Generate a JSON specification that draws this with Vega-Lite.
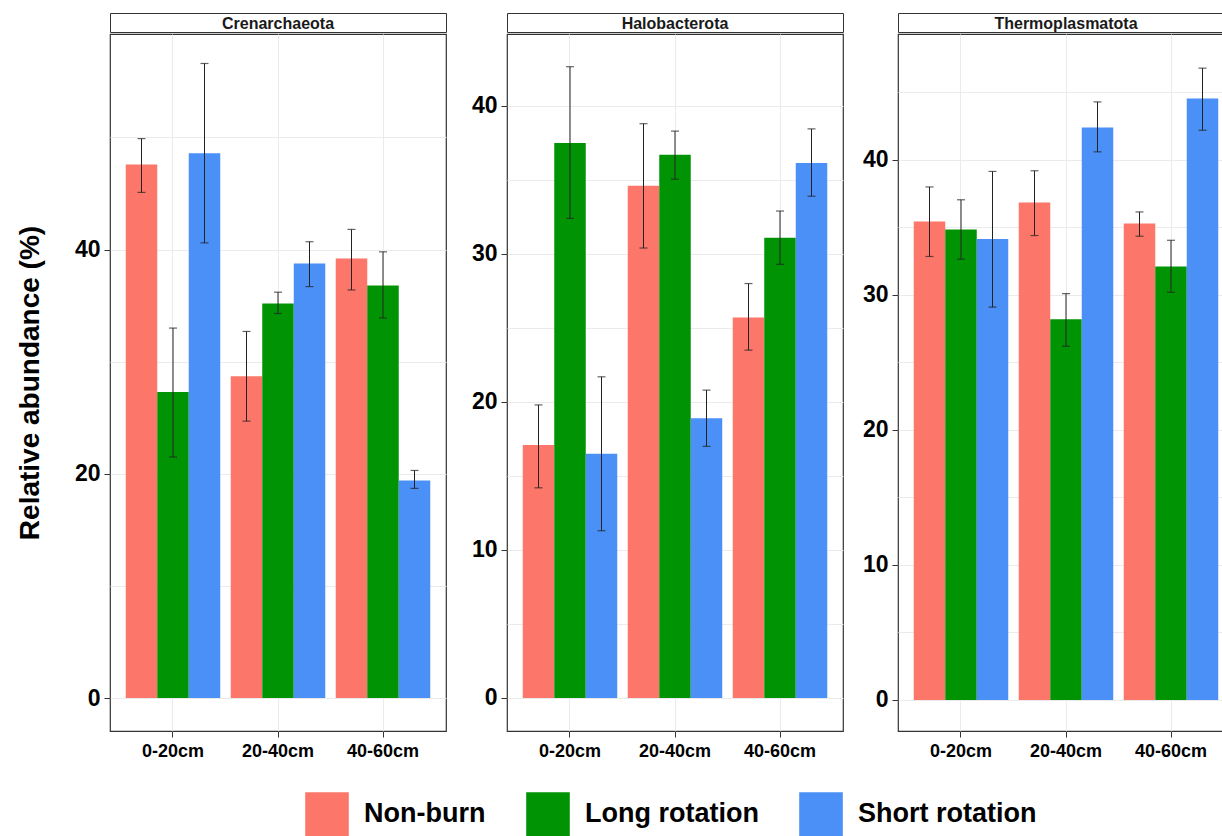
{
  "$schema": "https://vega.github.io/schema/vega-lite/v6.json",
  "padding": {"left": 15, "top": 12, "right": 0, "bottom": 0},
  "background": "white",
  "config": {
    "font": "Liberation Sans",
    "view": {"stroke": "#333333", "strokeWidth": 1.2},
    "axis": {"gridColor": "#EBEBEB", "gridWidth": 1, "domain": false, "tickColor": "#333333", "labelColor": "black", "labelFontWeight": "bold", "labelFont": "Liberation Sans"},
    "legend": {
      "orient": "none", "legendX": 195, "legendY": 779, "direction": "horizontal",
      "symbolType": "square", "symbolSize": 1900, "symbolStrokeWidth": 0, "symbolOpacity": 1,
      "labelFontSize": 27, "labelFontWeight": "bold", "labelColor": "black", "labelFont": "Liberation Sans", "labelLimit": 0,
      "labelOffset": 15, "columnPadding": 40, "title": null
    }
  },
  "data": {"values": [
    {"panel": "Crenarchaeota", "depth": "0-20cm", "treatment": "Non-burn", "mean": 47.6, "lo": 45.1, "hi": 49.9},
    {"panel": "Crenarchaeota", "depth": "0-20cm", "treatment": "Long rotation", "mean": 27.3, "lo": 21.5, "hi": 33.0},
    {"panel": "Crenarchaeota", "depth": "0-20cm", "treatment": "Short rotation", "mean": 48.6, "lo": 40.6, "hi": 56.6},
    {"panel": "Crenarchaeota", "depth": "20-40cm", "treatment": "Non-burn", "mean": 28.7, "lo": 24.7, "hi": 32.7},
    {"panel": "Crenarchaeota", "depth": "20-40cm", "treatment": "Long rotation", "mean": 35.2, "lo": 34.3, "hi": 36.2},
    {"panel": "Crenarchaeota", "depth": "20-40cm", "treatment": "Short rotation", "mean": 38.75, "lo": 36.7, "hi": 40.7},
    {"panel": "Crenarchaeota", "depth": "40-60cm", "treatment": "Non-burn", "mean": 39.2, "lo": 36.4, "hi": 41.8},
    {"panel": "Crenarchaeota", "depth": "40-60cm", "treatment": "Long rotation", "mean": 36.8, "lo": 33.9, "hi": 39.8},
    {"panel": "Crenarchaeota", "depth": "40-60cm", "treatment": "Short rotation", "mean": 19.4, "lo": 18.7, "hi": 20.3},
    {"panel": "Halobacterota", "depth": "0-20cm", "treatment": "Non-burn", "mean": 17.1, "lo": 14.2, "hi": 19.8},
    {"panel": "Halobacterota", "depth": "0-20cm", "treatment": "Long rotation", "mean": 37.5, "lo": 32.4, "hi": 42.65},
    {"panel": "Halobacterota", "depth": "0-20cm", "treatment": "Short rotation", "mean": 16.5, "lo": 11.3, "hi": 21.7},
    {"panel": "Halobacterota", "depth": "20-40cm", "treatment": "Non-burn", "mean": 34.6, "lo": 30.4, "hi": 38.8},
    {"panel": "Halobacterota", "depth": "20-40cm", "treatment": "Long rotation", "mean": 36.7, "lo": 35.05, "hi": 38.3},
    {"panel": "Halobacterota", "depth": "20-40cm", "treatment": "Short rotation", "mean": 18.9, "lo": 17.0, "hi": 20.8},
    {"panel": "Halobacterota", "depth": "40-60cm", "treatment": "Non-burn", "mean": 25.7, "lo": 23.5, "hi": 28.0},
    {"panel": "Halobacterota", "depth": "40-60cm", "treatment": "Long rotation", "mean": 31.1, "lo": 29.3, "hi": 32.9},
    {"panel": "Halobacterota", "depth": "40-60cm", "treatment": "Short rotation", "mean": 36.15, "lo": 33.9, "hi": 38.45},
    {"panel": "Thermoplasmatota", "depth": "0-20cm", "treatment": "Non-burn", "mean": 35.45, "lo": 32.85, "hi": 38.0},
    {"panel": "Thermoplasmatota", "depth": "0-20cm", "treatment": "Long rotation", "mean": 34.85, "lo": 32.65, "hi": 37.05},
    {"panel": "Thermoplasmatota", "depth": "0-20cm", "treatment": "Short rotation", "mean": 34.15, "lo": 29.1, "hi": 39.15},
    {"panel": "Thermoplasmatota", "depth": "20-40cm", "treatment": "Non-burn", "mean": 36.85, "lo": 34.4, "hi": 39.2},
    {"panel": "Thermoplasmatota", "depth": "20-40cm", "treatment": "Long rotation", "mean": 28.2, "lo": 26.2, "hi": 30.1},
    {"panel": "Thermoplasmatota", "depth": "20-40cm", "treatment": "Short rotation", "mean": 42.4, "lo": 40.6, "hi": 44.3},
    {"panel": "Thermoplasmatota", "depth": "40-60cm", "treatment": "Non-burn", "mean": 35.3, "lo": 34.35, "hi": 36.15},
    {"panel": "Thermoplasmatota", "depth": "40-60cm", "treatment": "Long rotation", "mean": 32.1, "lo": 30.2, "hi": 34.05},
    {"panel": "Thermoplasmatota", "depth": "40-60cm", "treatment": "Short rotation", "mean": 44.55, "lo": 42.2, "hi": 46.8}
  ]},
  "resolve": {"scale": {"y": "independent", "x": "independent", "xOffset": "independent"}},
  "spacing": 17,
  "hconcat": [
    {
      "spacing": 23,
      "resolve": {"scale": {"y": "independent", "x": "independent", "xOffset": "independent"}},
      "hconcat": [
        {
          "spacing": 0,
          "vconcat": [
            {"width": 336, "height": 19, "data": {"values": [{"name": "Crenarchaeota"}]}, "view": {"stroke": "#333333", "fill": "white"},
             "mark": {"type": "text", "fontSize": 16, "fontWeight": "bold", "color": "#1a1a1a", "baseline": "middle", "dy": 1},
             "encoding": {"text": {"field": "name"}}},
            {
              "width": 336, "height": 697,
              "transform": [{"filter": "datum.panel === 'Crenarchaeota'"}],
              "encoding": {
                "x": {"field": "depth", "type": "nominal", "sort": ["0-20cm", "20-40cm", "40-60cm"], "scale": {"paddingInner": 0.1, "paddingOuter": 0.15},
                      "axis": {"title": null, "labelAngle": 0, "labelFontSize": 18, "labelPadding": 5, "labelDx": 5, "tickSize": 6, "grid": true, "bandPosition": 0.5}},
                "xOffset": {"field": "treatment", "sort": ["Non-burn", "Long rotation", "Short rotation"], "scale": {"paddingInner": 0, "paddingOuter": 0}},
                "y": {"field": "mean", "type": "quantitative", "scale": {"domain": [-2.94, 59.23], "nice": false, "zero": false},
                      "axis": {"title": "Relative abundance (%)", "titleFontSize": 28, "titleFontWeight": "bold", "titleColor": "black", "titlePadding": 30,
                               "values": [0, 10, 20, 30, 40, 50], "labelExpr": "datum.value % 20 === 0 ? datum.label : ''",
                               "tickOpacity": {"condition": {"test": "datum.value % 20 === 0", "value": 1}, "value": 0},
                               "labelFontSize": 23, "tickSize": 6, "labelPadding": 4}}
              },
              "layer": [
                {"mark": {"type": "bar"}, "encoding": {"color": {"field": "treatment", "type": "nominal", "sort": ["Non-burn", "Long rotation", "Short rotation"], "scale": {"domain": ["Non-burn", "Long rotation", "Short rotation"], "range": ["#FC776A", "#009405", "#4A90F6"]}, "title": null}}},
                {"mark": {"type": "rule", "color": "#222222", "strokeWidth": 1}, "encoding": {"y": {"field": "lo", "type": "quantitative"}, "y2": {"field": "hi"}}},
                {"mark": {"type": "tick", "color": "#222222", "size": 8, "thickness": 1.2, "orient": "horizontal"}, "encoding": {"y": {"field": "lo", "type": "quantitative"}}},
                {"mark": {"type": "tick", "color": "#222222", "size": 8, "thickness": 1.2, "orient": "horizontal"}, "encoding": {"y": {"field": "hi", "type": "quantitative"}}}
              ]
            }
          ]
        },
        {
          "spacing": 0,
          "vconcat": [
            {"width": 336, "height": 19, "data": {"values": [{"name": "Halobacterota"}]}, "view": {"stroke": "#333333", "fill": "white"},
             "mark": {"type": "text", "fontSize": 16, "fontWeight": "bold", "color": "#1a1a1a", "baseline": "middle", "dy": 1},
             "encoding": {"text": {"field": "name"}}},
            {
              "width": 336, "height": 697,
              "transform": [{"filter": "datum.panel === 'Halobacterota'"}],
              "encoding": {
                "x": {"field": "depth", "type": "nominal", "sort": ["0-20cm", "20-40cm", "40-60cm"], "scale": {"paddingInner": 0.1, "paddingOuter": 0.15},
                      "axis": {"title": null, "labelAngle": 0, "labelFontSize": 18, "labelPadding": 5, "labelDx": 5, "tickSize": 6, "grid": true, "bandPosition": 0.5}},
                "xOffset": {"field": "treatment", "sort": ["Non-burn", "Long rotation", "Short rotation"], "scale": {"paddingInner": 0, "paddingOuter": 0}},
                "y": {"field": "mean", "type": "quantitative", "scale": {"domain": [-2.23, 44.86], "nice": false, "zero": false},
                      "axis": {"title": null,
                               "values": [0, 5, 10, 15, 20, 25, 30, 35, 40], "labelExpr": "datum.value % 10 === 0 ? datum.label : ''",
                               "tickOpacity": {"condition": {"test": "datum.value % 10 === 0", "value": 1}, "value": 0},
                               "labelFontSize": 23, "tickSize": 6, "labelPadding": 4}}
              },
              "layer": [
                {"mark": {"type": "bar"}, "encoding": {"color": {"field": "treatment", "type": "nominal", "sort": ["Non-burn", "Long rotation", "Short rotation"], "scale": {"domain": ["Non-burn", "Long rotation", "Short rotation"], "range": ["#FC776A", "#009405", "#4A90F6"]}, "title": null}}},
                {"mark": {"type": "rule", "color": "#222222", "strokeWidth": 1}, "encoding": {"y": {"field": "lo", "type": "quantitative"}, "y2": {"field": "hi"}}},
                {"mark": {"type": "tick", "color": "#222222", "size": 8, "thickness": 1.2, "orient": "horizontal"}, "encoding": {"y": {"field": "lo", "type": "quantitative"}}},
                {"mark": {"type": "tick", "color": "#222222", "size": 8, "thickness": 1.2, "orient": "horizontal"}, "encoding": {"y": {"field": "hi", "type": "quantitative"}}}
              ]
            }
          ]
        }
      ]
    },
    {
      "spacing": 0,
      "vconcat": [
        {"width": 336, "height": 19, "data": {"values": [{"name": "Thermoplasmatota"}]}, "view": {"stroke": "#333333", "fill": "white"},
         "mark": {"type": "text", "fontSize": 16, "fontWeight": "bold", "color": "#1a1a1a", "baseline": "middle", "dy": 1},
         "encoding": {"text": {"field": "name"}}},
        {
          "width": 336, "height": 697,
          "transform": [{"filter": "datum.panel === 'Thermoplasmatota'"}],
          "encoding": {
            "x": {"field": "depth", "type": "nominal", "sort": ["0-20cm", "20-40cm", "40-60cm"], "scale": {"paddingInner": 0.1, "paddingOuter": 0.15},
                  "axis": {"title": null, "labelAngle": 0, "labelFontSize": 18, "labelPadding": 5, "labelDx": 4, "tickSize": 6, "grid": true, "bandPosition": 0.5}},
            "xOffset": {"field": "treatment", "sort": ["Non-burn", "Long rotation", "Short rotation"], "scale": {"paddingInner": 0, "paddingOuter": 0}},
            "y": {"field": "mean", "type": "quantitative", "scale": {"domain": [-2.3, 49.33], "nice": false, "zero": false},
                  "axis": {"title": null,
                           "values": [0, 5, 10, 15, 20, 25, 30, 35, 40, 45], "labelExpr": "datum.value % 10 === 0 ? datum.label : ''",
                           "tickOpacity": {"condition": {"test": "datum.value % 10 === 0", "value": 1}, "value": 0},
                           "labelFontSize": 23, "tickSize": 6, "labelPadding": 4}}
          },
          "layer": [
            {"mark": {"type": "bar"}, "encoding": {"color": {"field": "treatment", "type": "nominal", "sort": ["Non-burn", "Long rotation", "Short rotation"], "scale": {"domain": ["Non-burn", "Long rotation", "Short rotation"], "range": ["#FC776A", "#009405", "#4A90F6"]}, "title": null}}},
            {"mark": {"type": "rule", "color": "#222222", "strokeWidth": 1}, "encoding": {"y": {"field": "lo", "type": "quantitative"}, "y2": {"field": "hi"}}},
            {"mark": {"type": "tick", "color": "#222222", "size": 8, "thickness": 1.2, "orient": "horizontal"}, "encoding": {"y": {"field": "lo", "type": "quantitative"}}},
            {"mark": {"type": "tick", "color": "#222222", "size": 8, "thickness": 1.2, "orient": "horizontal"}, "encoding": {"y": {"field": "hi", "type": "quantitative"}}}
          ]
        }
      ]
    }
  ]
}
